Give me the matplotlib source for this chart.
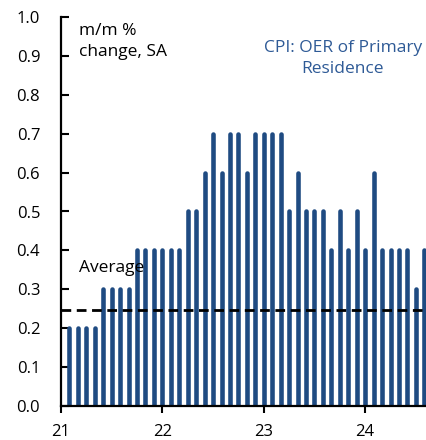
import numpy as np
import matplotlib.pyplot as plt

# CPI: OER of primary residence, m/m % change SA, Jan 2021 - Jul 2024
values_2021 = [0.2, 0.2, 0.2, 0.2, 0.3, 0.3, 0.3, 0.3, 0.4, 0.4, 0.4, 0.4]
values_2022 = [0.4, 0.4, 0.5, 0.5, 0.6, 0.7, 0.6, 0.7, 0.7, 0.6, 0.7, 0.7]
values_2023 = [0.7, 0.7, 0.5, 0.6, 0.5, 0.5, 0.5, 0.4, 0.5, 0.4, 0.5, 0.4]
values_2024 = [0.6, 0.4, 0.4, 0.4, 0.4, 0.3, 0.4]
average = 0.247
year_ticks = [21, 22, 23, 24]
y_ticks = [0.0, 0.1, 0.2, 0.3, 0.4, 0.5, 0.6, 0.7, 0.8, 0.9, 1.0]

oer = values_2021 + values_2022 + values_2023 + values_2024
# each month plotted at month end, in years
months = 21 + (np.arange(len(oer)) + 1) / 12

plt.rcParams['font.family'] = ['Open Sans', 'DejaVu Sans']

fig = plt.figure(figsize=(4.27, 4.40), dpi=100)
ax = fig.add_axes([61/427, 34/440, 366/427, 389/440])

ax.vlines(months, 0, oer, color='#1f4b82', linewidth=3.3, capstyle='round')
ax.axhline(average, color='black', linestyle=(0, (3.5, 2)), linewidth=2)

ax.set_xlim(21, 24.61)
ax.set_ylim(0, 1.0)
ax.set_xticks(year_ticks)
ax.set_xticklabels([str(y) for y in year_ticks])
ax.set_yticks(y_ticks)
ax.set_yticklabels([f'{v:.1f}' for v in y_ticks])

ax.tick_params(axis='y', direction='in', length=6, width=1.5, pad=15, labelsize=12)
ax.tick_params(axis='x', direction='out', length=5, width=1.5, pad=8, labelsize=12)

ax.spines['right'].set_visible(False)
ax.spines['top'].set_visible(False)
ax.spines['left'].set_linewidth(1.6)
ax.spines['bottom'].set_linewidth(1.6)

ax.text(21.18, 0.355, 'Average', fontsize=12.5, va='center', ha='left')
ax.text(21.18, 0.985, 'm/m %\nchange, SA', fontsize=12.5, va='top', ha='left',
        linespacing=1.4)
ax.text(23.78, 0.94, 'CPI: OER of Primary\nResidence', fontsize=12.5,
        va='top', ha='center', color='#2e5a96', linespacing=1.4)

fig.savefig('out.png', dpi=100)
